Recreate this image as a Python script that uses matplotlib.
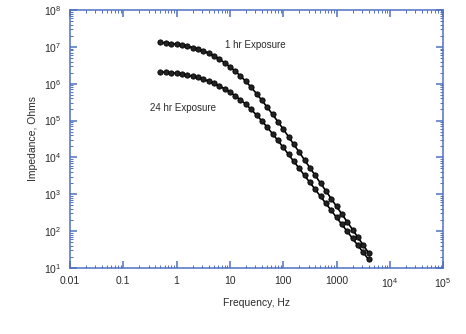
import numpy as np
import matplotlib.pyplot as plt
from matplotlib.ticker import LogLocator, FixedLocator, NullFormatter

plt.rcParams['font.family'] = ['Liberation Sans', 'DejaVu Sans']
plt.rcParams['mathtext.fontset'] = 'custom'
plt.rcParams['mathtext.rm'] = 'Liberation Sans'

# frequency, Hz
freq = [0.50, 0.63, 0.79, 1.0, 1.26, 1.58, 2.0, 2.51, 3.16, 3.98,
        5.01, 6.31, 7.94, 10, 12.6, 15.8, 20.0, 25.1, 31.6, 39.8,
        50.1, 63.1, 79.4, 100, 126, 158, 200, 251, 316, 398,
        501, 631, 794, 1000, 1259, 1585, 1995, 2512, 3162, 3981]

# log10 |Z| (ohms)
log_z_1hr = [7.12, 7.11, 7.09, 7.07, 7.05, 7.02, 6.98, 6.94, 6.89, 6.83,
             6.76, 6.67, 6.57, 6.46, 6.34, 6.21, 6.06, 5.90, 5.73, 5.55,
             5.36, 5.17, 4.97, 4.77, 4.56, 4.35, 4.14, 3.93, 3.72, 3.51,
             3.30, 3.09, 2.88, 2.67, 2.46, 2.25, 2.04, 1.83, 1.62, 1.41]
log_z_24hr = [6.32, 6.31, 6.30, 6.28, 6.26, 6.23, 6.20, 6.17, 6.12, 6.07,
              6.01, 5.94, 5.86, 5.77, 5.67, 5.56, 5.44, 5.30, 5.15, 4.99,
              4.82, 4.64, 4.46, 4.27, 4.08, 3.89, 3.70, 3.51, 3.32, 3.13,
              2.94, 2.75, 2.56, 2.37, 2.18, 1.99, 1.80, 1.61, 1.42, 1.23]

x_ticks = [0.01, 0.1, 1, 10, 100, 1000, 1e4, 1e5]
x_labels = ['0.01', '0.1', '1', '10', '100', '1000', r'$10^4$', r'$10^5$']
y_exps = [1, 2, 3, 4, 5, 6, 7, 8]

frame = '#5070c4'
text_c = '#2a2a2a'

fig = plt.figure(figsize=(4.66, 3.34), dpi=100)
ax = fig.add_axes([0.150, 0.198, 0.801, 0.772])

z1 = 10 ** np.array(log_z_1hr)
z24 = 10 ** np.array(log_z_24hr)
ax.plot(freq, z1, '-o', color='black', lw=1.2, ms=3.8, mfc='#222222', mec='black', mew=0.6)
ax.plot(freq, z24, '-o', color='black', lw=1.2, ms=3.8, mfc='#222222', mec='black', mew=0.6)

ax.set_xscale('log')
ax.set_yscale('log')
ax.set_xlim(0.01, 1e5)
ax.set_ylim(10 ** y_exps[0], 10 ** y_exps[-1])

ax.xaxis.set_major_locator(FixedLocator(x_ticks))
ax.set_xticklabels(x_labels)
ax.xaxis.set_minor_locator(LogLocator(base=10, subs=np.arange(2, 10), numticks=20))
ax.xaxis.set_minor_formatter(NullFormatter())

ax.yaxis.set_major_locator(FixedLocator([10.0 ** e for e in y_exps]))
ax.set_yticklabels([r'$10^{%d}$' % e for e in y_exps])
ax.yaxis.set_minor_locator(LogLocator(base=10, subs=np.arange(2, 10), numticks=20))
ax.yaxis.set_minor_formatter(NullFormatter())

for s in ax.spines.values():
    s.set_color(frame)
    s.set_linewidth(1.1)
ax.tick_params(which='both', direction='in', top=True, right=True, color=frame,
               labelcolor=text_c, labelsize=7.5)
ax.tick_params(which='major', length=5, width=1.1, pad=6)
ax.tick_params(which='minor', length=2.5, width=0.7)

ax.set_xlabel('Frequency, Hz', fontsize=7.5, color=text_c, labelpad=6)
ax.set_ylabel('Impedance, Ohms', fontsize=7.5, color=text_c, labelpad=4)

ax.text(8.1, 10 ** 7.05, '1 hr Exposure', fontsize=7, color=text_c, va='center')
ax.text(0.32, 10 ** 5.34, '24 hr Exposure', fontsize=7, color=text_c, va='center')

fig.savefig('out.png', dpi=100)
